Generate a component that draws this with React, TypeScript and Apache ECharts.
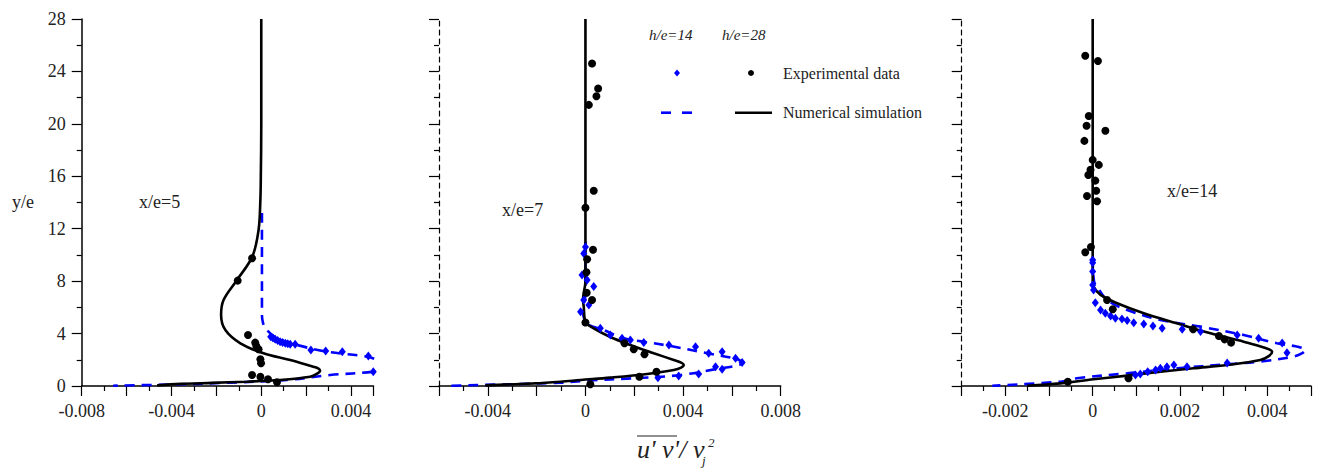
import React, { useEffect, useRef } from "react";
import * as echarts from "echarts";

// ---------- data: [u'v'/vj^2, y/e] ----------
const sim28P1 = [[0,28],[0,20],[-0.00002,16],[-0.00004,14.2],[-0.00012,11.9],[-0.0004,9.87],[-0.00108,8.09],[-0.00168,6.56],[-0.00179,5.42],[-0.0016,4.27],[-0.00093,3.26],[0.0001,2.5],[0.00129,1.98],[0.00232,1.47],[0.00255,1.33],[0.00262,1.17],[0.00247,0.92],[0.00218,0.71],[0.00084,0.46],[-0.00064,0.33],[-0.0022,0.24],[-0.0036,0.16],[-0.00464,0.05]];
const sim14P1 = [[0.00003,13.2],[0.00003,9],[0.00003,5.4],[0.00008,4.8],[0.00018,4.4],[0.0007,3.64],[0.00159,3.13],[0.00292,2.62],[0.0047,2.24],[0.0052,1.95],[0.0054,1.6],[0.0053,1.3],[0.005,1.09],[0.00307,0.84],[0.00114,0.46],[-0.0015,0.25],[-0.0036,0.13],[-0.0066,0.02]];
const exp14P1 = [[0.00042,3.76],[0.00052,3.66],[0.00062,3.56],[0.00073,3.47],[0.00084,3.38],[0.00095,3.32],[0.00107,3.26],[0.00118,3.22],[0.00129,3.18],[0.00151,3.18],[0.00221,2.75],[0.00287,2.67],[0.00361,2.62],[0.00477,2.29],[0.00499,1.09]];
const exp28P1 = [[-0.00041,9.75],[-0.00105,8.04],[-0.00059,3.89],[-0.00027,3.31],[-0.00022,3.05],[-0.00012,2.8],[-0.00004,2.04],[-0.00001,1.73],[-0.00041,0.84],[-0.00004,0.71],[0.0003,0.51],[0.0007,0.28]];

const sim28P2 = [[0,28],[0,8],[-0.0001,6.6],[-0.00007,6.05],[0,4.9],[0.00034,4.4],[0.001,3.76],[0.00184,3.13],[0.0028,2.5],[0.00362,1.98],[0.00392,1.78],[0.00403,1.6],[0.00392,1.4],[0.00362,1.22],[0.00253,0.92],[0.00102,0.64],[-0.0002,0.46],[-0.00102,0.33],[-0.00212,0.2],[-0.0041,0.05]];
const sim14P2 = [[0,11],[0,7],[-0.0001,5.8],[0.00005,4.8],[0.00075,4.27],[0.00157,3.64],[0.00239,3.38],[0.00348,3.05],[0.00499,2.5],[0.00608,2.11],[0.00636,1.92],[0.00642,1.73],[0.0062,1.55],[0.00553,1.35],[0.0039,0.84],[0.00198,0.59],[0.00007,0.41],[-0.00102,0.25],[-0.0056,0.02]];
const exp14P2 = [[0,10.6],[-0.00007,10.1],[-0.00014,8.47],[0.00007,8.09],[0.00034,7.6],[-0.00007,6.56],[0.00014,6.18],[-0.0002,5.67],[0.00061,4.4],[0.00102,3.89],[0.0015,3.64],[0.00184,3.51],[0.00239,3.31],[0.00342,3.13],[0.00451,3.0],[0.0056,2.62],[0.00505,2.5],[0.00615,2.11],[0.00642,1.8],[0.0056,1.27],[0.00533,1.47],[0.00464,0.92],[0.00382,0.76],[0.00297,0.62]];
const exp28P2 = [[0.00027,24.6],[0.00052,22.7],[0.00045,22.1],[0.00014,21.45],[0.00034,14.9],[0,13.6],[0.00031,10.4],[0.00007,9.67],[0.00004,8.68],[0.00005,7.12],[0.00027,6.56],[0,4.85],[0.0016,3.26],[0.00198,2.8],[0.00242,2.42],[0.00291,1.09],[0.00221,0.71],[0.0002,0.13]];

const sim28P3 = [[0,28],[0,8],[0.00002,7.58],[0.00018,6.95],[0.00056,6.31],[0.00117,5.55],[0.00193,4.78],[0.0027,4.02],[0.00346,3.38],[0.00394,2.92],[0.00411,2.62],[0.00404,2.3],[0.00384,1.98],[0.00308,1.6],[0.00231,1.35],[0.00155,1.09],[0.00079,0.79],[0.00002,0.51],[-0.00074,0.2],[-0.0015,0.02]];
const sim14P3 = [[0,9.8],[0.00003,8],[0.0001,7.58],[0.00033,6.56],[0.00079,5.8],[0.00155,5.04],[0.00247,4.53],[0.00346,3.89],[0.00422,3.26],[0.00472,2.98],[0.00487,2.75],[0.0048,2.5],[0.0046,2.24],[0.00384,1.86],[0.00308,1.66],[0.00193,1.35],[0.00079,0.97],[-0.00036,0.59],[-0.00074,0.33],[-0.0023,0.02]];
const exp14P3 = [[0,9.62],[0,9.4],[0,8.73],[0,7.71],[0.00002,7.33],[0.00006,6.36],[0.00018,5.8],[0.00029,5.55],[0.00041,5.34],[0.00052,5.17],[0.00067,5.11],[0.00079,4.99],[0.00094,4.83],[0.00117,4.73],[0.00138,4.58],[0.00159,4.4],[0.00205,4.33],[0.00247,4.15],[0.00331,3.89],[0.0038,3.64],[0.00434,3.28],[0.00445,2.54],[0.00308,1.76],[0.00216,1.47],[0.00186,1.6],[0.0017,1.47],[0.00155,1.35],[0.00144,1.22],[0.00126,1.09],[0.00109,0.92],[0.00098,0.84]];
const exp28P3 = [[-0.00017,25.2],[0.00012,24.8],[-0.00009,20.6],[-0.00014,19.85],[0.00029,19.47],[-0.00019,18.7],[0,17.25],[0.00014,16.87],[-0.00005,16.5],[-0.0001,16.1],[0.00006,15.67],[0.00008,14.9],[-0.00013,14.5],[0.0001,14.1],[-0.00004,10.6],[-0.00017,10.2],[0.00033,6.56],[0.00046,5.85],[0.0023,4.33],[0.00289,3.82],[0.00302,3.56],[0.00317,3.31],[0.00082,0.59],[-0.00057,0.33]];

// axis settings per panel: [min, max, interval, labelStep]
const xRanges = [
  [-0.008, 0.005, 0.002, 0.004],
  [-0.006, 0.008, 0.002, 0.004],
  [-0.003, 0.005, 0.001, 0.002],
];
const yTicks = [0, 28, 4];
const panelLabels = ["x/e=5", "x/e=7", "x/e=14"];
const legendHeads = ["h/e=14", "h/e=28"];
const legendItems = ["Experimental data", "Numerical simulation"];

const BLUE = "#0000ff";
const SERIF = "Liberation Serif";

function fmtLabel(step: number) {
  return (v: number) => {
    const k = v / step;
    if (Math.abs(k - Math.round(k)) > 1e-6) return "";
    const r = Math.round(v * 1000) / 1000;
    return r === 0 ? "0" : r.toFixed(3);
  };
}

export default function App() {
  const ref = useRef<HTMLDivElement>(null);
  useEffect(() => {
    if (!ref.current) return;
    const chart = echarts.init(ref.current, undefined, { renderer: "svg" });
    const grids = [
      { left: 81.7, top: 19, width: 291.8, height: 367 },
      { left: 439, top: 19, width: 341.7, height: 367 },
      { left: 961.7, top: 19, width: 349.3, height: 367 },
    ];
    const xAxis = xRanges.map((r, i) => ({
      type: "value",
      gridIndex: i,
      min: r[0],
      max: r[1],
      interval: r[2],
      axisLine: { show: true, onZero: false, lineStyle: { color: "#000", width: 1.5 } },
      axisTick: { show: true, length: 10, lineStyle: { color: "#000", width: 1.2 } },
      minorTick: { show: true, splitNumber: 2, length: 5, lineStyle: { color: "#000", width: 1.2 } },
      splitLine: { show: false },
      axisLabel: {
        formatter: fmtLabel(r[3]),
        fontFamily: SERIF,
        fontSize: 18,
        color: "#222",
        margin: 16,
        showMaxLabel: true,
        showMinLabel: true,
      },
    }));
    const yAxis = [0, 1, 2].map((i) => ({
      type: "value",
      gridIndex: i,
      min: yTicks[0],
      max: yTicks[1],
      interval: yTicks[2],
      axisLine: {
        show: true,
        onZero: false,
        lineStyle: { color: "#000", width: i === 0 ? 1.5 : 1.2, type: i === 0 ? "solid" : [5, 4] },
      },
      axisTick: { show: true, length: 10, lineStyle: { color: "#000", width: 1.2 } },
      minorTick: { show: true, splitNumber: 2, length: 5, lineStyle: { color: "#000", width: 1.2 } },
      splitLine: { show: false },
      axisLabel: {
        show: i === 0,
        fontFamily: SERIF,
        fontSize: 18,
        color: "#222",
        margin: 16,
      },
    }));

    const panels = [
      [sim14P1, sim28P1, exp14P1, exp28P1],
      [sim14P2, sim28P2, exp14P2, exp28P2],
      [sim14P3, sim28P3, exp14P3, exp28P3],
    ];
    const series: any[] = [];
    panels.forEach((p, i) => {
      series.push({
        type: "line", xAxisIndex: i, yAxisIndex: i, data: p[0], showSymbol: false, symbol: "none",
        smooth: 0.35, clip: false, z: 2,
        lineStyle: { color: BLUE, width: 2.6, type: [10, 7] },
      });
      series.push({
        type: "line", xAxisIndex: i, yAxisIndex: i, data: p[1], showSymbol: false, symbol: "none",
        smooth: 0.35, clip: false, z: 3,
        lineStyle: { color: "#000", width: 2.6 },
      });
      series.push({
        type: "scatter", xAxisIndex: i, yAxisIndex: i, data: p[2], symbol: "diamond",
        symbolSize: [7, 9], itemStyle: { color: BLUE, opacity: 1 }, z: 4,
      });
      series.push({
        type: "scatter", xAxisIndex: i, yAxisIndex: i, data: p[3], symbol: "circle",
        symbolSize: 8, itemStyle: { color: "#000", opacity: 1 }, z: 5,
      });
    });

    const txt = (text: string, x: number, y: number, size = 18, italic = false) => ({
      type: "text",
      x,
      y,
      style: {
        text,
        fontFamily: SERIF,
        fontSize: size,
        fontStyle: italic ? "italic" : "normal",
        fill: "#222",
        textAlign: "left",
        textVerticalAlign: "middle",
      },
    });

    const graphic: any[] = [
      txt("y/e", 12, 202),
      txt(panelLabels[0], 139, 202),
      txt(panelLabels[1], 502, 210),
      txt(panelLabels[2], 1167, 191),
      txt(legendHeads[0], 649, 35, 15, true),
      txt(legendHeads[1], 722, 35, 15, true),
      {
        type: "polygon",
        shape: { points: [[677, 69.5], [680, 73], [677, 76.5], [674, 73]] },
        style: { fill: BLUE },
      },
      { type: "circle", shape: { cx: 751, cy: 73, r: 3 }, style: { fill: "#000" } },
      txt(legendItems[0], 783, 73, 16),
      { type: "line", shape: { x1: 661, y1: 112.7, x2: 671, y2: 112.7 }, style: { stroke: BLUE, lineWidth: 2.6 } },
      { type: "line", shape: { x1: 682, y1: 112.7, x2: 692, y2: 112.7 }, style: { stroke: BLUE, lineWidth: 2.6 } },
      { type: "line", shape: { x1: 735, y1: 112.7, x2: 772, y2: 112.7 }, style: { stroke: "#000", lineWidth: 2.6 } },
      txt(legendItems[1], 783, 112.7, 16),
      // x-axis title
      txt("u' v'/ v", 637, 449, 26, true),
      txt("2", 708, 442, 13, true),
      txt("j", 702, 460, 13, true),
      { type: "line", shape: { x1: 637, y1: 436, x2: 677, y2: 436 }, style: { stroke: "#222", lineWidth: 1.2 } },
    ];

    chart.setOption({
      animation: false,
      backgroundColor: "#fff",
      grid: grids,
      xAxis,
      yAxis,
      series,
      graphic,
    });
    return () => chart.dispose();
  }, []);
  return (
    <div
      ref={ref}
      style={{ position: "absolute", left: 0, top: 0, width: 1321, height: 471 }}
    />
  );
}
